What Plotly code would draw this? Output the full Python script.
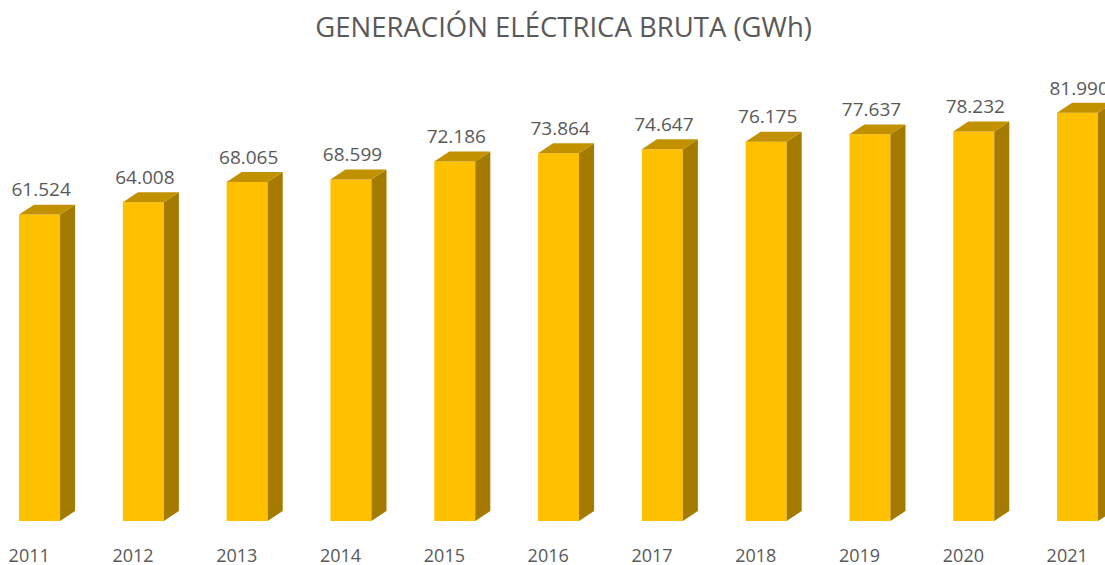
import plotly.graph_objects as go

years = ["2011", "2012", "2013", "2014", "2015", "2016", "2017", "2018", "2019", "2020", "2021"]
values = [61.524, 64.008, 68.065, 68.599, 72.186, 73.864, 74.647, 76.175, 77.637, 78.232, 81.990]
labels = ["61.524", "64.008", "68.065", "68.599", "72.186", "73.864", "74.647", "76.175", "77.637", "78.232", "81.990"]

FRONT = "#FFC000"
TOP = "#C29100"
SIDE = "#A47B00"
TXT = "#595959"

bar_w = 0.395
dx = 0.145   # depth in x units
dy = 2.0     # depth in y units

idx = list(range(len(years)))

top_x, top_y, side_x, side_y = [], [], [], []
for i, v in zip(idx, values):
    l, r = i - bar_w / 2, i + bar_w / 2
    top_x += [l, r, r + dx, l + dx, l, None]
    top_y += [v, v, v + dy, v + dy, v, None]
    side_x += [r, r + dx, r + dx, r, r, None]
    side_y += [0, dy, v + dy, v, 0, None]

fig = go.Figure()
fig.add_trace(go.Bar(x=idx, y=values, width=bar_w, marker=dict(color=FRONT, line=dict(width=0)),
                     hoverinfo="skip"))
fig.add_trace(go.Scatter(x=side_x, y=side_y, mode="lines", fill="toself", fillcolor=SIDE,
                         line=dict(width=0, color=SIDE), hoverinfo="skip"))
fig.add_trace(go.Scatter(x=top_x, y=top_y, mode="lines", fill="toself", fillcolor=TOP,
                         line=dict(width=0, color=TOP), hoverinfo="skip"))
fig.add_trace(go.Scatter(x=[i + 0.015 for i in idx], y=[v + 4.6 for v in values], mode="text",
                         text=labels, textposition="middle center",
                         textfont=dict(family="Open Sans", size=19, color=TXT), hoverinfo="skip",
                         cliponaxis=False))

fig.update_layout(
    width=1105, height=565,
    margin=dict(l=0, r=0, t=60, b=44),
    paper_bgcolor="white", plot_bgcolor="white",
    showlegend=False,
    title=dict(text="GENERACIÓN ELÉCTRICA BRUTA (GWh)", x=0.51, xanchor="center",
               y=1 - 27 / 565, yanchor="middle", yref="container",
               font=dict(family="Open Sans", size=27.5, color=TXT)),
    xaxis=dict(range=[-0.381, 1105 / 103.8 - 0.381], tickvals=[i - 0.1 for i in idx], ticktext=years,
               showgrid=False, zeroline=False, showline=False, ticks="", automargin=False,
               ticklabelstandoff=22, tickfont=dict(family="Open Sans", size=18, color=TXT)),
    yaxis=dict(range=[0, 461 / 4.98], visible=False, showgrid=False, zeroline=False, automargin=False),
)

fig.write_html("out.html", config={"displayModeBar": False},
               post_script="document.body.style.margin='0';document.body.style.padding='0';")
